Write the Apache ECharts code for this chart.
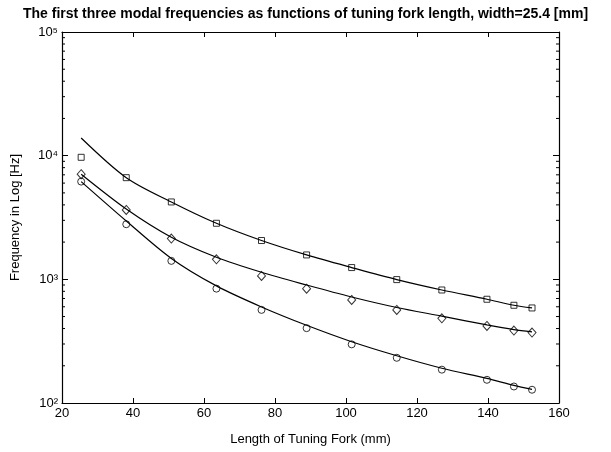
<!DOCTYPE html>
<html><head><meta charset="utf-8">
<script src="https://cdn.jsdelivr.net/npm/echarts/dist/echarts.min.js"></script>
<style>html,body{margin:0;padding:0;background:#fff}#c{width:611px;height:452px}</style>
</head><body><div id="c"></div>
<script>
// Data (length in mm, frequency in Hz)
const lengths = [25.4, 38.1, 50.8, 63.5, 76.2, 88.9, 101.6, 114.3, 127.0, 139.7, 147.3, 152.4];
const mode3Measured = [9700, 6640, 4225, 2840, 2060, 1575, 1245, 995, 820, 690, 617, 587];
const mode3Curve    = [13900, 6640, 4225, 2840, 2060, 1575, 1245, 995, 820, 690, 617, 587];
const mode2Measured = [7080, 3640, 2135, 1452, 1065, 841, 681, 566, 484, 420, 385, 371];
const mode2Curve    = [7080, 3705, 2190, 1508, 1140, 900, 720, 592, 504, 428, 392, 376];
const mode1Measured = [6170, 2790, 1410, 841, 566, 403, 298, 232, 186, 154, 136, 128];
const mode1Curve    = [6170, 2965, 1476, 885, 598, 425, 313, 241, 191, 158, 139, 129];
const xTicks = [20, 40, 60, 80, 100, 120, 140, 160];
const yDecades = [100, 1000, 10000, 100000];
const supMap = {2:'²',3:'³',4:'⁴',5:'⁵'};

const minorTicks = [];
[100, 1000, 10000].forEach(d => { for (let k = 2; k <= 9; k++) minorTicks.push([20, k * d]); });

function pairs(ys) { return lengths.map((x, i) => [x, ys[i]]); }

const FONT = 'Liberation Sans, Arial, sans-serif';
const chart = echarts.init(document.getElementById('c'), null, {renderer: 'canvas'});

const lineStyle = {color: '#000', width: 1.2};
const hollow = {color: 'rgba(0,0,0,0)', borderColor: '#000', borderWidth: 1};

chart.setOption({
  backgroundColor: '#fff',
  animation: false,
  title: {
    text: 'The first three modal frequencies as functions of tuning fork length, width=25.4 [mm]',
    left: 'center', top: 2,
    textStyle: {fontFamily: FONT, fontSize: 14, fontWeight: 'bold', color: '#000'}
  },
  grid: {left: 62, right: 52, top: 32, bottom: 49, containLabel: false},
  xAxis: [{
    type: 'value', min: 20, max: 160, interval: 20,
    name: 'Length of Tuning Fork (mm)', nameLocation: 'middle', nameGap: 30,
    nameTextStyle: {fontFamily: FONT, fontSize: 13, color: '#000'},
    axisLine: {lineStyle: {color: '#000', width: 1.2}},
    axisTick: {inside: true, length: 5, lineStyle: {color: '#000'}},
    axisLabel: {fontFamily: FONT, fontSize: 13, color: '#000', margin: 4},
    splitLine: {show: false}
  }, {
    type: 'value', min: 20, max: 160, interval: 20, position: 'top',
    axisLine: {lineStyle: {color: '#000', width: 1.2}},
    axisTick: {inside: true, length: 5, lineStyle: {color: '#000'}},
    axisLabel: {show: false}, splitLine: {show: false}
  }],
  yAxis: [{
    type: 'log', logBase: 10, min: 100, max: 100000,
    name: 'Frequency in Log [Hz]', nameLocation: 'middle', nameGap: 40,
    nameTextStyle: {fontFamily: FONT, fontSize: 13, color: '#000'},
    axisLine: {show: true, lineStyle: {color: '#000', width: 1.2}},
    axisTick: {show: true, inside: true, length: 6, lineStyle: {color: '#000'}},
    axisLabel: {fontFamily: FONT, fontSize: 13, color: '#000', margin: 4,
      formatter: v => '10' + supMap[Math.round(Math.log10(v))]},
    splitLine: {show: false}
  }, {
    type: 'log', logBase: 10, min: 100, max: 100000, position: 'right',
    axisLine: {show: true, lineStyle: {color: '#000', width: 1.2}},
    axisTick: {show: true, inside: true, length: 6, lineStyle: {color: '#000'}},
    axisLabel: {show: false}, splitLine: {show: false}
  }],
  series: [
    {type: 'line', data: pairs(mode3Curve), smooth: 0.3, showSymbol: false, lineStyle: lineStyle, silent: true},
    {type: 'line', data: pairs(mode2Curve), smooth: 0.3, showSymbol: false, lineStyle: lineStyle, silent: true},
    {type: 'line', data: pairs(mode1Curve), smooth: 0.3, showSymbol: false, lineStyle: lineStyle, silent: true},
    {type: 'scatter', data: pairs(mode3Measured), symbol: 'rect', symbolSize: 6, itemStyle: hollow},
    {type: 'scatter', data: pairs(mode2Measured), symbol: 'diamond', symbolSize: [8, 9], itemStyle: hollow},
    {type: 'scatter', data: pairs(mode1Measured), symbol: 'circle', symbolSize: 7, itemStyle: hollow},
    {
      type: 'custom', data: minorTicks, encode: {x: 0, y: 1}, clip: false, silent: true, z: 10,
      renderItem: function (params, api) {
        const v = api.value(1);
        const pl = api.coord([20, v]);
        const pr = api.coord([160, v]);
        return {type: 'group', children: [
          {type: 'line', shape: {x1: pl[0], y1: pl[1], x2: pl[0] + 3, y2: pl[1]}, style: {stroke: '#000', lineWidth: 1}},
          {type: 'line', shape: {x1: pr[0], y1: pr[1], x2: pr[0] - 3, y2: pr[1]}, style: {stroke: '#000', lineWidth: 1}}
        ]};
      }
    }
  ]
});
</script>
</body></html>
